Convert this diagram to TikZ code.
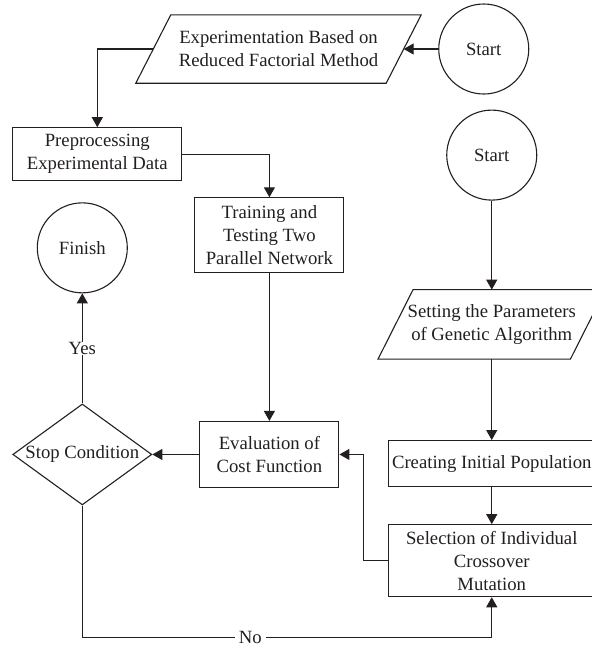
\documentclass[tikz,border=0pt]{standalone}
\usepackage{fontspec}
\setmainfont{Liberation Serif}
\usetikzlibrary{arrows.meta}
\usetikzlibrary{positioning}
\usetikzlibrary{shapes.geometric}
\definecolor{ink}{RGB}{35,31,32}
\tikzset{
    block/.style={
           rectangle,
           draw=ink, line width=1.1pt,
           inner sep=1pt,
           align=center,
           text=ink,
           font=\fontsize{18.7}{23}\selectfont,
           },
    terminal/.style={
           circle,
           draw=ink, line width=1.1pt,
           minimum size=90pt,
           inner sep=0pt,
           text=ink,
           font=\fontsize{18.7}{23}\selectfont,
           },
    inout/.style={
           rectangle,
           %frame is drawn slanted afterwards
           inner sep=1pt,
           align=center,
           text=ink,
           font=\fontsize{18.7}{23}\selectfont,
           },
    decision/.style={
           diamond,
           aspect=1.376,
           draw=ink, line width=1.1pt,
           inner sep=0pt,
           text=ink,
           font=\fontsize{18.7}{23}\selectfont,
           },
    frameless/.style={
           fill=white,
           inner xsep=4pt, inner ysep=0pt,
           text=ink,
           font=\fontsize{18.7}{23}\selectfont,
           },
}

\begin{document}
\begin{tikzpicture}[x=1pt,y=1pt]
	\useasboundingbox (0,0) rectangle (592,-646);
	\tikzset{flow/.style={draw=ink, line width=1.1pt, -{Triangle[length=10pt,width=11pt]}},};
	\tikzset{slant/.style={draw=ink, line width=1.1pt, line join=miter},};

	%data side
	\node[inout, minimum width=250pt, minimum height=68pt] (expm) at (278.5,-49) {Experimentation Based on\\ Reduced Factorial Method};
	\node[terminal, right=34.5pt of expm] (start1) {Start};
	\node[block, minimum width=169pt, minimum height=53pt, below=44pt of expm.south west, xshift=-56pt] (pre) {Preprocessing\\ Experimental Data};
	\node[block, minimum width=149pt, minimum height=75pt, below right=16pt and 12pt of pre.south east] (train) {Training and\\ Testing Two\\ Parallel Network};
	\node[terminal, below=21pt of pre, xshift=-15pt] (finish) {Finish};
	\node[decision, minimum width=139pt, minimum height=101pt, below=110pt of finish] (stop) {Stop Condition};
	\node[block, minimum width=139pt, minimum height=66pt, right=47pt of stop] (eval) {Evaluation of\\ Cost Function};

	%genetic algorithm column
	\node[terminal, below=15pt of start1, xshift=8pt] (start2) {Start};
	\node[inout, minimum width=192pt, minimum height=69pt, below=89pt of start2] (param) {Setting the Parameters\\ of Genetic Algorithm};
	\node[block, minimum width=206pt, minimum height=46pt, below=81pt of param] (create) {Creating Initial Population};
	\node[block, minimum width=206pt, minimum height=72pt, below=37pt of create] (select) {Selection of Individual\\ Crossover\\ Mutation};
	\coordinate[below=132pt of stop.south] (nocor);

	%parallelogram frames
	\draw[slant] ([xshift=17.5pt]expm.north west) -- ([xshift=17.5pt]expm.north east)
		-- ([xshift=-17.5pt]expm.south east) -- ([xshift=-17.5pt]expm.south west) -- cycle;
	\draw[slant] ([xshift=17.5pt]param.north west) -- ([xshift=17.5pt]param.north east)
		-- ([xshift=-17.5pt]param.south east) -- ([xshift=-17.5pt]param.south west) -- cycle;

	%EDGES
	\draw[flow] (start1) -- (expm.east);
	\draw[flow] (expm.west) -| (pre.north);
	\draw[flow] (pre.east) -| (train.north);
	\draw[flow] (train.south) -- (train.south |- eval.north);
	\draw[flow] (eval) -- (stop);
	\draw[flow] (start2) -- (param.north);
	\draw[flow] (param.south) -- (create.north);
	\draw[flow] (create) -- (select);
	\draw[flow] (stop) -- node[frameless] {Yes} (finish);
	\draw[flow] (select.west) -- ++(-25pt,0) |- (eval.east);
	\draw[flow] (stop.south) -- (nocor) -- node[frameless, pos=0.41] {No} (nocor -| select.south) -- (select.south);
\end{tikzpicture}
\end{document}
